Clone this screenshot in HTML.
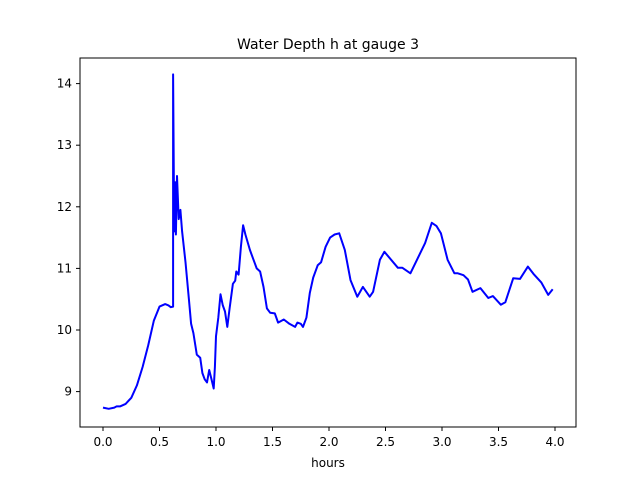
<!DOCTYPE html>
<html><head><meta charset="utf-8"><style>
body{margin:0;background:#fff;}
svg text{font-family:"DejaVu Sans","Liberation Sans",sans-serif;}
</style></head><body>
<svg width="640" height="480">
<rect x="0" y="0" width="640" height="480" fill="#fff"/>
<text x="328" y="49" text-anchor="middle" font-size="14">Water Depth h at gauge 3</text>
<g id="ticks"></g>
<path id="line" fill="none" stroke="#0000ff" stroke-width="2" stroke-linejoin="round"/>
<rect x="80" y="58" width="496" height="369" fill="none" stroke="#000" stroke-width="1"/>
<text x="328" y="467" text-anchor="middle" font-size="12">hours</text>
</svg>
<script>
const xTicks=[0,0.5,1,1.5,2,2.5,3,3.5,4];
const yTicks=[9,10,11,12,13,14];
const hours=[0,0.05,0.1,0.12,0.15,0.2,0.25,0.3,0.35,0.4,0.45,0.5,0.55,0.58,0.6,0.62,0.62,0.63,0.64,0.645,0.655,0.67,0.685,0.7,0.73,0.76,0.78,0.8,0.83,0.86,0.88,0.9,0.92,0.94,0.96,0.98,0.99,1.0,1.02,1.04,1.06,1.08,1.1,1.12,1.15,1.17,1.18,1.2,1.22,1.24,1.26,1.3,1.33,1.36,1.39,1.42,1.45,1.48,1.52,1.55,1.6,1.65,1.7,1.72,1.75,1.77,1.8,1.83,1.86,1.9,1.93,1.97,2.01,2.05,2.09,2.14,2.19,2.25,2.30,2.36,2.39,2.45,2.49,2.61,2.65,2.72,2.80,2.85,2.91,2.95,2.99,3.05,3.11,3.14,3.19,3.23,3.27,3.34,3.41,3.45,3.52,3.56,3.63,3.69,3.76,3.81,3.88,3.94,3.98];
const depth=[8.74,8.72,8.74,8.76,8.76,8.8,8.9,9.1,9.4,9.75,10.15,10.38,10.42,10.4,10.37,10.38,14.15,11.6,12.4,11.55,12.5,11.8,11.95,11.6,11.1,10.5,10.1,9.95,9.6,9.55,9.3,9.2,9.15,9.35,9.2,9.05,9.4,9.9,10.2,10.58,10.4,10.3,10.05,10.35,10.75,10.8,10.95,10.9,11.35,11.7,11.55,11.3,11.15,11.0,10.95,10.7,10.35,10.28,10.27,10.12,10.17,10.1,10.05,10.12,10.1,10.05,10.2,10.6,10.85,11.05,11.1,11.35,11.5,11.55,11.57,11.3,10.81,10.54,10.70,10.54,10.62,11.14,11.27,11.01,11.01,10.92,11.22,11.41,11.74,11.69,11.57,11.14,10.92,10.92,10.89,10.82,10.62,10.68,10.52,10.55,10.41,10.45,10.84,10.83,11.03,10.91,10.77,10.57,10.66];
const X=h=>103+h*113;
const Y=v=>330-(v-10)*61.6;
const g=document.getElementById('ticks');
const NS='http://www.w3.org/2000/svg';
xTicks.forEach(t=>{
 const l=document.createElementNS(NS,'line');
 l.setAttribute('x1',X(t));l.setAttribute('x2',X(t));l.setAttribute('y1',427);l.setAttribute('y2',431);l.setAttribute('stroke','#000');
 
 
 g.appendChild(l);
 const s=document.createElementNS(NS,'text');
 s.setAttribute('x',X(t));s.setAttribute('y',446);s.setAttribute('text-anchor','middle');s.setAttribute('font-size','12');
 s.textContent=t.toFixed(1);
 
 
 g.appendChild(s);
});
yTicks.forEach(t=>{
 const l=document.createElementNS(NS,'line');
 l.setAttribute('x1',76);l.setAttribute('x2',80);l.setAttribute('y1',Y(t));l.setAttribute('y2',Y(t));l.setAttribute('stroke','#000');
 
 
 g.appendChild(l);
 const s=document.createElementNS(NS,'text');
 s.setAttribute('x',72);s.setAttribute('y',Y(t)+4);s.setAttribute('text-anchor','end');s.setAttribute('font-size','12');
 s.textContent=t;
 
 
 g.appendChild(s);
});
document.getElementById('line').setAttribute('d',hours.map((h,i)=>(i?'L':'M')+X(h).toFixed(1)+','+Y(depth[i]).toFixed(1)).join(''));
</script>
</body></html>
